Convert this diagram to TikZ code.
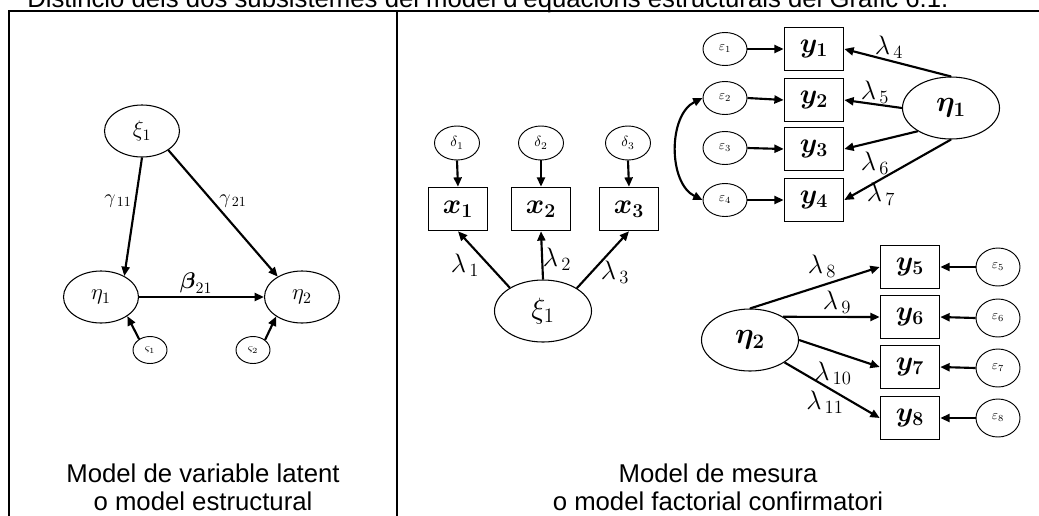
\RequirePackage{fix-cm}
\documentclass[tikz,border=0pt]{standalone}
\usepackage{amsmath}
\usepackage[no-math]{fontspec}
\setmainfont{Liberation Sans}
\usetikzlibrary{arrows.meta,shapes.geometric}
\def\pxu{0.75pt}
\tikzset{
  every node/.style={inner sep=0pt},
  frame/.style={line width=1.6pt},
  bigL/.style={ellipse, draw, line width=0.8pt, minimum width=75*\pxu, minimum height=52*\pxu, font=\fontsize{17}{17}\selectfont},
  bigR/.style={ellipse, draw, line width=0.8pt, minimum width=97*\pxu, minimum height=62*\pxu, font=\fontsize{22}{22}\selectfont},
  zeta/.style={ellipse, draw, line width=0.7pt, minimum width=34*\pxu, minimum height=27*\pxu, font=\fontsize{8.5}{8.5}\selectfont},
  delta/.style={ellipse, draw, line width=0.7pt, minimum width=45*\pxu, minimum height=34*\pxu, font=\fontsize{11}{11}\selectfont},
  eps/.style={ellipse, draw, line width=0.7pt, minimum width=44*\pxu, minimum height=33*\pxu, font=\fontsize{10}{10}\selectfont},
  epsb/.style={eps, minimum height=38*\pxu},
  obs/.style={rectangle, draw, line width=1.2pt, minimum width=59*\pxu, minimum height=43*\pxu, font=\fontsize{21}{21}\selectfont},
  link/.style={line width=1.6pt, -{Triangle[length=7pt,width=6pt]}},
  both/.style={line width=1.6pt, {Triangle[length=7pt,width=6pt]}-{Triangle[length=7pt,width=6pt]}},
  lab/.style={font=\fontsize{20}{20}\selectfont},
  labL/.style={font=\fontsize{15}{15}\selectfont},
  captxt/.style={anchor=base, font=\fontsize{19.3}{22}\selectfont}
}
\begin{document}
\begin{tikzpicture}[x=0.75pt, y=-0.75pt]
\useasboundingbox (0,0) rectangle (1039,515);
\clip (0,0) rectangle (1039,515);

% heading, partly cut by the top edge
\node[anchor=base west, font=\fontsize{19.3}{22}\selectfont] (title) at (27,7)
  {Distinció dels dos subsistemes del model d'equacions estructurals del Gràfic 6.1.};

% frame and divider
\draw[frame] (9,520) -- (9,11) -- (1045,11);
\draw[frame] (397,11) -- (397,520);

% ---------- structural model ----------
\node[bigL] (xiL) at (142,131) {$\xi_1$};
\node[bigL] (etaL1) at (101,297) {$\eta_1$};
\node[bigL] (etaL2) at (302,297) {$\eta_2$};
\node[zeta] (zL1) at (150,350) {$\varsigma_1$};
\node[zeta] (zL2) at (253,350) {$\varsigma_2$};
\draw[link] (xiL.south) -- (etaL1.42);
\draw[link] (xiL.-36) -- (etaL2.140);
\draw[link] (etaL1.east) -- (etaL2.west);
\draw[link] (zL1.135) -- (etaL1.-36);
\draw[link] (zL2.40) -- (etaL2.217);
\node[labL] (g11) at (118,201) {$\gamma_{\,11}$};
\node[labL] (g21) at (233,201) {$\gamma_{\,21}$};
\node[labL, font=\fontsize{17}{17}\selectfont] (b21) at (196,283) {$\boldsymbol{\beta}_{21}$};

% ---------- measurement model: exogenous part ----------
\node[delta] (d1) at (457,143) {$\delta_1$};
\node[delta] (d2) at (541,143) {$\delta_2$};
\node[delta] (d3) at (628,143) {$\delta_3$};
\node[obs] (x1) at (458,209) {$\boldsymbol{x_1}$};
\node[obs] (x2) at (541,209) {$\boldsymbol{x_2}$};
\node[obs] (x3) at (629,209) {$\boldsymbol{x_3}$};
\node[bigR] (xiR) at (543,311) {$\xi_1$};
\draw[link] (d1.south) -- (x1.north);
\draw[link] (d2.south) -- (x2.north);
\draw[link] (d3.south) -- (x3.north);
\draw[link] (xiR.145) -- (x1.south);
\draw[link] (xiR.north) -- (x2.south);
\draw[link] (xiR.34) -- (x3.south);
\node[lab] (l1) at (465,265) {$\lambda_{\,1}$};
\node[lab] (l2) at (557,259) {$\lambda_{\,2}$};
\node[lab] (l3) at (615,272) {$\lambda_{\,3}$};

% ---------- measurement model: eta 1 ----------
\node[eps] (e1) at (725,49) {$\varepsilon_1$};
\node[eps] (e2) at (725,98) {$\varepsilon_2$};
\node[eps] (e3) at (725,148) {$\varepsilon_3$};
\node[eps] (e4) at (725,200) {$\varepsilon_4$};
\node[obs] (y1) at (814,49) {$\boldsymbol{y_1}$};
\node[obs] (y2) at (814,100) {$\boldsymbol{y_2}$};
\node[obs] (y3) at (814,149) {$\boldsymbol{y_3}$};
\node[obs] (y4) at (814,200) {$\boldsymbol{y_4}$};
\node[bigR] (etaR1) at (951,108) {$\boldsymbol{\eta_1}$};
\draw[link] (e1.east) -- (y1.west);
\draw[link] (e2.east) -- (y2.west);
\draw[link] (e3.east) -- (y3.west);
\draw[link] (e4.east) -- (y4.west);
\draw[both] (e2.west) .. controls (668,115) and (668,183) .. (e4.west);
\draw[link] (etaR1.north) -- (y1.east);
\draw[link] (etaR1.west) -- (y2.east);
\draw[link] (etaR1.215) -- (y3.east);
\draw[link] (etaR1.south) -- (y4.east);
\node[lab] (l4) at (889,47) {$\lambda_{\,4}$};
\node[lab] (l5) at (875,92) {$\lambda_{\,5}$};
\node[lab] (l6) at (875,163) {$\lambda_{\,6}$};
\node[lab] (l7) at (881,194) {$\lambda_{\,7}$};

% ---------- measurement model: eta 2 ----------
\node[bigR] (etaR2) at (750,340) {$\boldsymbol{\eta_2}$};
\node[obs] (y5) at (910,267) {$\boldsymbol{y_5}$};
\node[obs] (y6) at (910,317) {$\boldsymbol{y_6}$};
\node[obs] (y7) at (910,367) {$\boldsymbol{y_7}$};
\node[obs] (y8) at (910,418) {$\boldsymbol{y_8}$};
\node[epsb] (e5) at (998,267) {$\varepsilon_5$};
\node[epsb] (e6) at (998,318) {$\varepsilon_6$};
\node[epsb] (e7) at (998,368) {$\varepsilon_7$};
\node[epsb] (e8) at (998,418) {$\varepsilon_8$};
\draw[link] (etaR2.north) -- (y5.west);
\draw[link] (etaR2.35) -- (y6.west);
\draw[link] (etaR2.east) -- (y7.west);
\draw[link] (etaR2.-33) -- (y8.west);
\draw[link] (e5.west) -- (y5.east);
\draw[link] (e6.west) -- (y6.east);
\draw[link] (e7.west) -- (y7.east);
\draw[link] (e8.west) -- (y8.east);
\node[lab] (l8) at (822,266) {$\lambda_{\,8}$};
\node[lab] (l9) at (837,302) {$\lambda_{\,9}$};
\node[lab] (l10) at (833,373) {$\lambda_{\,10}$};
\node[lab] (l11) at (825,402) {$\lambda_{\,11}$};

% ---------- captions ----------
\node[captxt] (capL1) at (203,482) {Model de variable latent};
\node[captxt] (capL2) at (203,510) {o model estructural};
\node[captxt] (capR1) at (718,482) {Model de mesura};
\node[captxt] (capR2) at (718,510) {o model factorial confirmatori};
\end{tikzpicture}
\end{document}
